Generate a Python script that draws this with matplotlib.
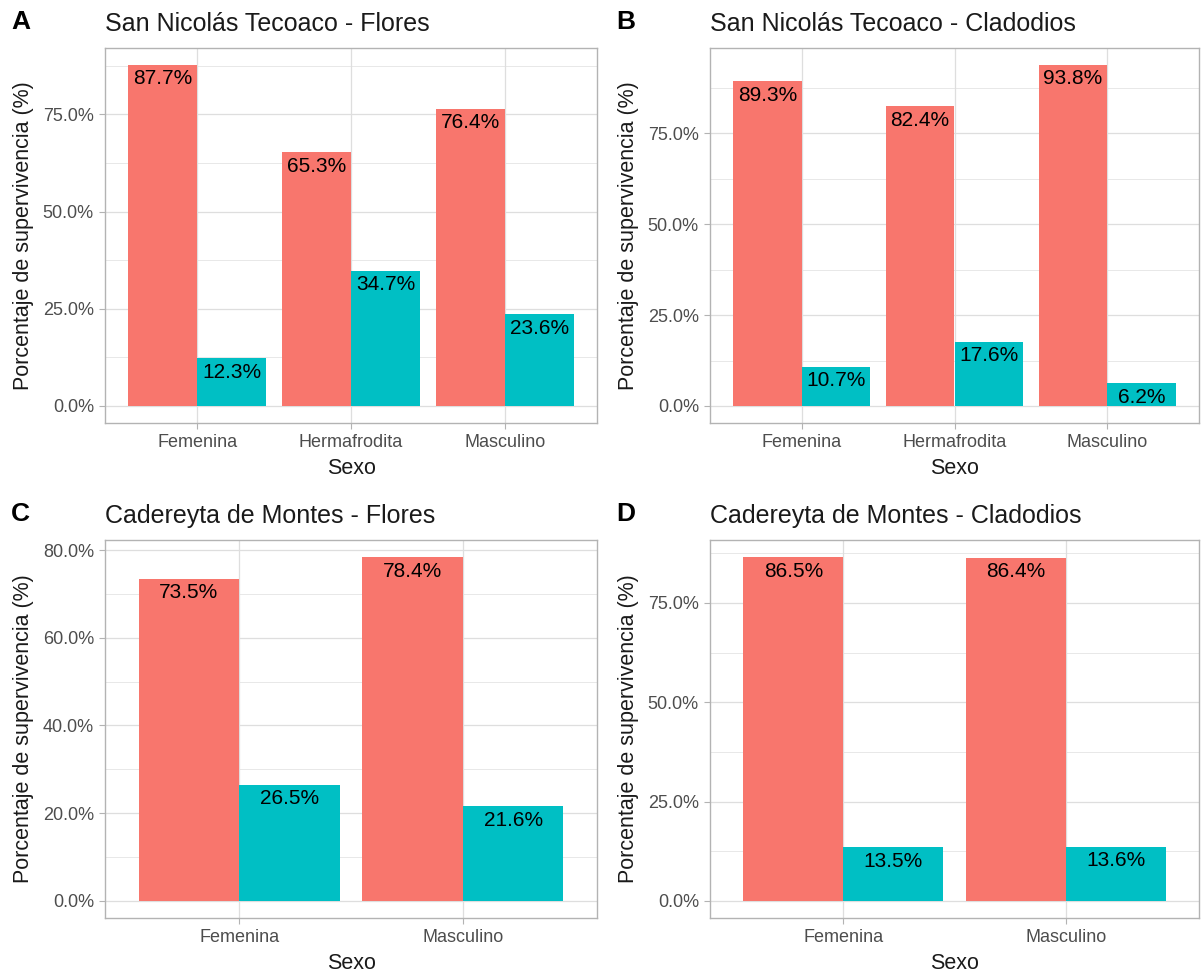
import numpy as np
import matplotlib
matplotlib.use('Agg')
from matplotlib import pyplot as plt
from matplotlib.ticker import FuncFormatter, MultipleLocator

plt.rcParams['font.family'] = ['Liberation Sans', 'DejaVu Sans']

red = '#F8766D'
teal = '#00BFC4'

sexo_3 = ['Femenina', 'Hermafrodita', 'Masculino']
sexo_2 = ['Femenina', 'Masculino']

a_vivo = [0.877, 0.653, 0.764]
a_muerto = [0.123, 0.347, 0.236]
b_vivo = [0.893, 0.824, 0.938]
b_muerto = [0.107, 0.176, 0.062]
c_vivo = [0.735, 0.784]
c_muerto = [0.265, 0.216]
d_vivo = [0.865, 0.864]
d_muerto = [0.135, 0.136]

titles = ['San Nicolás Tecoaco - Flores', 'San Nicolás Tecoaco - Cladodios',
          'Cadereyta de Montes - Flores', 'Cadereyta de Montes - Cladodios']
letters = ['A', 'B', 'C', 'D']

W, H = 1201, 976
fig = plt.figure(figsize=(W / 100, H / 100), dpi=100)

# pixel boxes: left, top, right, bottom
boxes = [(105, 48, 597, 423), (710, 48, 1199, 423),
         (105, 540, 597, 918), (710, 540, 1199, 918)]

panels = [(sexo_3, a_vivo, a_muerto, 0.25), (sexo_3, b_vivo, b_muerto, 0.25),
          (sexo_2, c_vivo, c_muerto, 0.2), (sexo_2, d_vivo, d_muerto, 0.25)]

pct = FuncFormatter(lambda v, p: f'{v * 100:.1f}%')

for i, ((cats, vivo, muerto, step), box) in enumerate(zip(panels, boxes)):
    l, t, r, b = box
    ax = fig.add_axes([l / W, 1 - b / H, (r - l) / W, (b - t) / H])
    x = np.arange(1, len(cats) + 1)
    w = 0.45
    ax.bar(x - w / 2, vivo, width=w, color=red, zorder=3)
    ax.bar(x + w / 2, muerto, width=w, color=teal, zorder=3)
    for xi, v in zip(x - w / 2, vivo):
        ax.annotate(f'{v * 100:.1f}%', (xi, v), xytext=(0, -10), textcoords='offset points',
                    ha='center', va='center', fontsize=15, color='black', zorder=4)
    for xi, v in zip(x + w / 2, muerto):
        ax.annotate(f'{v * 100:.1f}%', (xi, v), xytext=(0, -10), textcoords='offset points',
                    ha='center', va='center', fontsize=15, color='black', zorder=4)

    top = max(vivo) * 1.05
    ax.set_ylim(-0.05 * max(vivo), top)
    ax.set_xlim(0.4, len(cats) + 0.6)
    ax.set_xticks(x)
    ax.set_xticklabels(cats)
    ax.yaxis.set_major_locator(MultipleLocator(step))
    ax.yaxis.set_minor_locator(MultipleLocator(step / 2))
    ax.yaxis.set_major_formatter(pct)

    ax.grid(True, which='major', color='#DEDEDE', linewidth=0.9, zorder=0)
    ax.grid(True, which='minor', axis='y', color='#DEDEDE', linewidth=0.5, zorder=0)
    ax.tick_params(which='major', length=4, color='#B3B3B3', labelsize=13,
                   labelcolor='#4D4D4D', pad=4)
    ax.tick_params(which='minor', length=0)
    for s in ax.spines.values():
        s.set_color('#B3B3B3')
        s.set_linewidth(1)

    ax.set_xlabel('Sexo', fontsize=15.5, color='#1A1A1A', labelpad=5)
    ax.set_ylabel('Porcentaje de supervivencia (%)', fontsize=15.5, color='#1A1A1A', labelpad=6)
    ax.set_title(titles[i], loc='left', fontsize=18, color='#1A1A1A', pad=12)

    lx = 11 if l < 600 else 616
    fig.text(lx / W, 1 - (t - 26) / H, letters[i], fontsize=19, fontweight='bold',
             ha='left', va='center')

plt.savefig('out.png', dpi=100)
